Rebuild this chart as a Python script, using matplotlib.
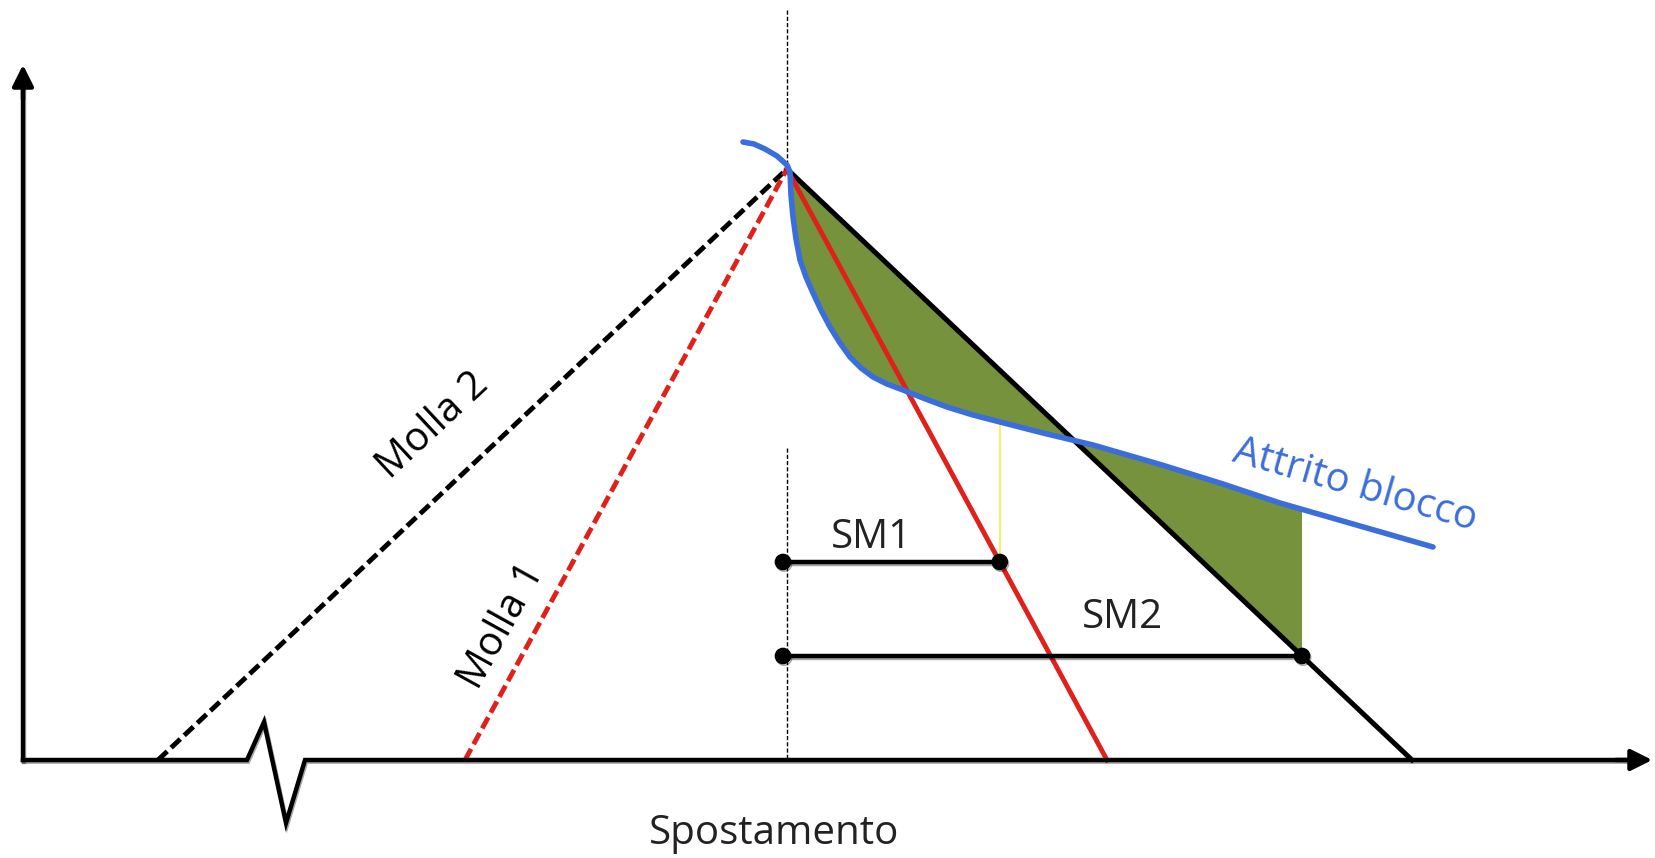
import matplotlib.pyplot as plt
import matplotlib.patheffects as pe
import numpy as np

# diagram geometry (x = spostamento, y = forza), origin at the axes corner
peak = (764, 591)
molla2_x0 = 135
molla1_x0 = 442
sm1_red_end = 1084      # red line (molla 1 unloading) hits the axis
black_end = 1389        # black line (molla 2 unloading) hits the axis

# blue friction curve ("Attrito blocco")
blue_x = [720, 731, 742, 754, 764, 767, 768, 770, 773, 777, 783, 790, 798, 807, 817, 827, 838,
          850, 864, 880, 900, 924, 950, 977, 1020, 1070, 1139, 1200, 1257, 1330, 1410]
blue_y = [618, 616, 611, 604, 595, 588, 565, 543, 521, 500, 483, 467, 450, 433, 417, 403, 392,
          383, 376, 370, 362, 353, 345, 338, 327, 315, 295, 276, 257, 236, 213]
blue_from_peak = 4

# SM levels
sm1_y = 198
sm2_y = 104
sm_left_x = 760

# axes
x_axis_end = 1632
y_axis_end = 698
break_x = [0, 224, 241, 263, 282, 1605]
break_y = [0, 0, 38, -63, 0, 0]

red = '#e0201b'
blue = '#3a6edc'
green = '#76923c'

fig = plt.figure(figsize=(16.56, 8.58), dpi=100)
ax = fig.add_axes([0, 0, 1, 1])
ax.set_xlim(-23, 1633)
ax.set_ylim(-98, 760)
ax.axis('off')

shadow = [pe.SimpleLineShadow(offset=(0.8, -1.2), alpha=0.35), pe.Normal()]

# x axis with break, y axis
ax.plot(break_x, break_y, color='k', lw=3.2, solid_joinstyle='miter', path_effects=shadow, zorder=5)
ax.annotate('', xy=(x_axis_end, 0), xytext=(1590, 0),
            arrowprops=dict(arrowstyle='-|>', color='k', lw=3.2, mutation_scale=32), zorder=5)
ax.plot([0, 0], [0, y_axis_end - 20], color='k', lw=3.2, path_effects=shadow, zorder=5)
ax.annotate('', xy=(0, y_axis_end), xytext=(0, y_axis_end - 40),
            arrowprops=dict(arrowstyle='-|>', color='k', lw=3.2, mutation_scale=32), zorder=5)

# vertical reference line through the peak
ax.plot([peak[0], peak[0]], [750, 596], color='k', lw=1, ls=(0, (3, 1.5)), zorder=2)
ax.plot([peak[0], peak[0]], [312, 0], color='k', lw=1, ls=(0, (3, 1.5)), zorder=2)

# green area between black unloading line and blue curve
bxp = blue_x[blue_from_peak:]
byp = blue_y[blue_from_peak:]
green_end = peak[0] + (peak[1] - sm2_y) / peak[1] * (black_end - peak[0])
keep = [i for i, x in enumerate(bxp) if x < green_end]
gx = [bxp[i] for i in keep] + [green_end]
gy = [byp[i] for i in keep] + [float(np.interp(green_end, bxp, byp))]
blk_x = np.linspace(green_end, peak[0], 50)
blk_y = peak[1] * (black_end - blk_x) / (black_end - peak[0])
ax.fill(np.concatenate([gx, blk_x]), np.concatenate([gy, blk_y]), color=green, lw=0, zorder=1)

# loading lines (dashed)
ax.plot([molla2_x0, peak[0]], [0, peak[1]], color='k', lw=3.5, ls=(0, (2.6, 1.1)), zorder=3)
ax.plot([molla1_x0, peak[0]], [0, peak[1]], color=red, lw=3.5, ls=(0, (2.6, 1.1)), zorder=3)

# unloading lines
ax.plot([peak[0], sm1_red_end], [peak[1], 0], color=red, lw=3.5, zorder=4)
ax.plot([peak[0], black_end], [peak[1], 0], color='k', lw=3.6, zorder=3)

# blue curve
ax.plot(blue_x, blue_y, color=blue, lw=4, solid_capstyle='round', solid_joinstyle='round', zorder=4)

# SM segments
sm1_right = peak[0] + (peak[1] - sm1_y) / peak[1] * (sm1_red_end - peak[0])
sm2_right = green_end
ax.plot([sm_left_x, sm1_right], [sm1_y, sm1_y], color='k', lw=3.2, marker='o', ms=11,
        path_effects=shadow, zorder=6)
ax.plot([sm_left_x, sm2_right], [sm2_y, sm2_y], color='k', lw=3.2, marker='o', ms=11,
        path_effects=shadow, zorder=6)
ax.plot([sm1_right, sm1_right], [sm1_y, np.interp(sm1_right, bxp, byp)],
        color='#f4f070', lw=1.5, zorder=2)

font = 'Open Sans'
fs = 29
ax.text(848, 222, 'SM1', fontsize=fs, family=font, ha='center', va='center', color='#222222')
ax.text(1100, 142, 'SM2', fontsize=fs, family=font, ha='center', va='center', color='#222222')
ax.text(410, 334, 'Molla 2', fontsize=fs, family=font, ha='center', va='center',
        rotation=43, rotation_mode='anchor', color='k')
ax.text(479, 134, 'Molla 1', fontsize=fs, family=font, ha='center', va='center',
        rotation=61, rotation_mode='anchor', color='k')
ax.text(1332, 274, 'Attrito blocco', fontsize=fs, family=font, ha='center', va='center',
        rotation=-16, rotation_mode='anchor', color=blue)
ax.text(751, -74, 'Spostamento', fontsize=fs, family=font, ha='center', va='center', color='#222222')

plt.savefig('out.png', dpi=100, facecolor='white')
